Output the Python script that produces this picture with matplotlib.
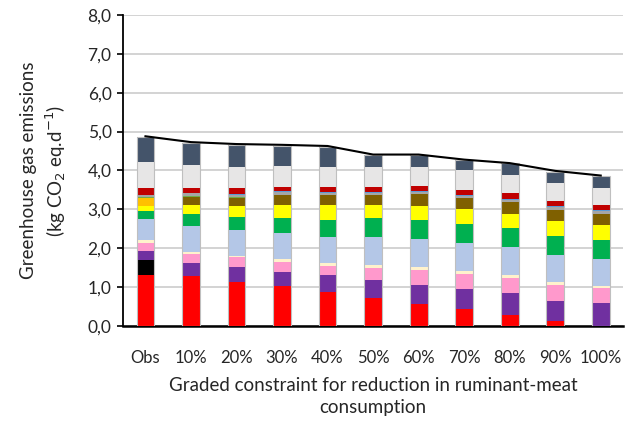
import matplotlib
matplotlib.use("Agg")
import matplotlib.pyplot as plt
import numpy as np

plt.rcParams['font.family'] = ['Lato', 'DejaVu Sans']

categories = ["Obs", "10%", "20%", "30%", "40%", "50%", "60%", "70%", "80%", "90%", "100%"]

red_meat   = [1.32, 1.28, 1.13, 1.02, 0.87, 0.73, 0.57, 0.43, 0.29, 0.12, 0.00]
black_cat  = [0.38, 0.00, 0.00, 0.00, 0.00, 0.00, 0.00, 0.00, 0.00, 0.00, 0.00]
purple     = [0.23, 0.33, 0.38, 0.38, 0.43, 0.45, 0.49, 0.53, 0.56, 0.53, 0.58]
pink       = [0.21, 0.24, 0.26, 0.25, 0.25, 0.31, 0.38, 0.38, 0.38, 0.41, 0.39]
cream      = [0.06, 0.05, 0.04, 0.07, 0.07, 0.08, 0.07, 0.07, 0.07, 0.07, 0.06]
lightblue  = [0.56, 0.68, 0.67, 0.68, 0.67, 0.72, 0.72, 0.72, 0.73, 0.70, 0.70]
green      = [0.20, 0.29, 0.33, 0.38, 0.44, 0.49, 0.50, 0.49, 0.49, 0.48, 0.48]
yellow     = [0.13, 0.24, 0.27, 0.34, 0.38, 0.32, 0.36, 0.38, 0.37, 0.39, 0.39]
orange     = [0.19, 0.00, 0.00, 0.00, 0.00, 0.00, 0.00, 0.00, 0.00, 0.00, 0.00]
brown      = [0.02, 0.21, 0.22, 0.24, 0.25, 0.27, 0.30, 0.28, 0.30, 0.28, 0.29]
olive      = [0.03, 0.02, 0.01, 0.01, 0.00, 0.00, 0.00, 0.00, 0.00, 0.00, 0.00]
gray       = [0.04, 0.07, 0.07, 0.07, 0.06, 0.06, 0.05, 0.07, 0.06, 0.07, 0.06]
blue_small = [0.00, 0.01, 0.01, 0.02, 0.03, 0.02, 0.02, 0.03, 0.02, 0.03, 0.03]
darkred    = [0.17, 0.12, 0.15, 0.12, 0.12, 0.13, 0.15, 0.12, 0.15, 0.13, 0.13]
lightgray  = [0.68, 0.59, 0.56, 0.53, 0.53, 0.51, 0.48, 0.50, 0.47, 0.46, 0.45]
slate      = [0.64, 0.58, 0.56, 0.51, 0.50, 0.32, 0.31, 0.26, 0.31, 0.30, 0.29]

total_line = [4.88, 4.73, 4.68, 4.66, 4.63, 4.41, 4.41, 4.28, 4.19, 3.99, 3.87]

series = [
    (red_meat, "#FF0000"),
    (black_cat, "#000000"),
    (purple, "#7030A0"),
    (pink, "#FF99CC"),
    (cream, "#FFF2CC"),
    (lightblue, "#B4C7E7"),
    (green, "#00B050"),
    (yellow, "#FFFF00"),
    (orange, "#FFC000"),
    (brown, "#7F6000"),
    (olive, "#70AD47"),
    (gray, "#A5A5A5"),
    (blue_small, "#5B9BD5"),
    (darkred, "#C00000"),
    (lightgray, "#E7E6E6"),
    (slate, "#44546A"),
]

fig = plt.figure(figsize=(6.26, 4.22), dpi=100)
ax = fig.add_axes([0.196, 0.2275, 0.80, 0.737])

x = np.arange(len(categories))
width = 0.39
bottom = np.zeros(len(categories))
for vals, col in series:
    v = np.array(vals)
    ax.bar(x, v, width, bottom=bottom, color=col, edgecolor='none', zorder=3)
    bottom += v
ax.bar(x, bottom, width, facecolor='none', edgecolor='#BFBFBF', linewidth=0.8, zorder=4)

ax.plot(x, total_line, color='black', linewidth=1.5, zorder=5)

ax.set_xlim(-0.5, len(categories) - 0.5)
ax.set_ylim(0, 8)
ax.set_yticks(np.arange(0, 8.01, 1.0))
ax.set_yticklabels([f"{t:.1f}".replace('.', ',') for t in np.arange(0, 8.01, 1.0)], fontsize=12.5, color='#262626')
ax.set_xticks(x)
ax.set_xticklabels(categories, fontsize=12, color='#262626')
ax.tick_params(axis='x', length=0, pad=17)
ax.tick_params(axis='y', length=4, width=1.2, direction='out', color='black', pad=4)

ax.yaxis.grid(True, color='#D0D0D0', linewidth=1.3, zorder=0)
ax.set_axisbelow(True)
for s in ['top', 'right']:
    ax.spines[s].set_visible(False)
ax.spines['left'].set_color('black')
ax.spines['left'].set_linewidth(1.3)
ax.spines['bottom'].set_color('black')
ax.spines['bottom'].set_linewidth(1.8)

ax.set_ylabel("Greenhouse gas emissions\n(kg CO$_2$ eq.d$^{-1}$)", fontsize=13.5, color='#262626', labelpad=14, linespacing=1.3)
ax.set_xlabel("Graded constraint for reduction in ruminant-meat\nconsumption", fontsize=13.5, color='#262626', labelpad=8, linespacing=1.35)

fig.savefig("out.png", dpi=100)
